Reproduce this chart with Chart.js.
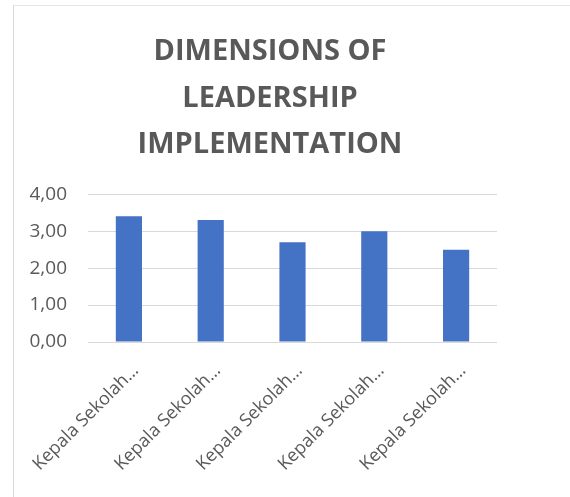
<!DOCTYPE html>
<html>
<head>
<meta charset="utf-8">
<script src="https://cdn.jsdelivr.net/npm/chart.js@4"></script>
<style>
    body { margin: 0; background: #fff; }
    #wrap { position: relative; width: 570px; height: 497px; }
    #frame { position: absolute; left: 13px; top: 5px; right: 0; bottom: 0;
             border-left: 1px solid #d9d9d9; border-top: 1px solid #e6e6e6; }
    canvas { position: absolute; left: 0; top: 0; }
</style>
</head>
<body>
<div id="wrap">
    <div id="frame"></div>
    <canvas id="chart" width="570" height="497"></canvas>
</div>
<script>
    // chart data
    const titleLines = ['DIMENSIONS OF', 'LEADERSHIP', 'IMPLEMENTATION'];
    const categories = ['Kepala Sekolah…', 'Kepala Sekolah…', 'Kepala Sekolah…', 'Kepala Sekolah…', 'Kepala Sekolah…'];
    const scores = [3.40, 3.30, 2.70, 3.00, 2.50];
    const yTicks = [0, 1, 2, 3, 4];

    const grey = '#595959';
    const font = "'Open Sans', sans-serif";

    const ctx = document.getElementById('chart').getContext('2d');
    new Chart(ctx, {
        type: 'bar',
        data: {
            labels: categories,
            datasets: [{
                data: scores,
                backgroundColor: '#4472C4',
                borderWidth: 0,
                categoryPercentage: 1,
                barPercentage: 0.32
            }]
        },
        options: {
            responsive: false,
            animation: false,
            layout: { padding: { top: 5, left: 13, right: 43, bottom: 4 } },
            plugins: {
                legend: { display: false },
                tooltip: { enabled: false },
                title: {
                    display: true,
                    text: titleLines,
                    color: grey,
                    font: { family: font, size: 29, weight: 'bold', lineHeight: 1.6 },
                    padding: { top: 24, bottom: 26 }
                }
            },
            scales: {
                x: {
                    grid: { display: false },
                    border: { display: false },
                    ticks: {
                        color: grey,
                        font: { family: font, size: 18 },
                        minRotation: 45,
                        maxRotation: 45,
                        autoSkip: false,
                        padding: 10,
                        labelOffset: 7
                    },
                    afterFit: scale => { scale.height = 151; }
                },
                y: {
                    min: 0,
                    max: 4,
                    afterBuildTicks: scale => { scale.ticks = yTicks.map(v => ({ value: v })); },
                    grid: { color: '#d9d9d9', lineWidth: 1, drawTicks: false },
                    border: { display: false },
                    ticks: {
                        color: grey,
                        font: { family: font, size: 19 },
                        padding: 21,
                        callback: v => v.toFixed(2).replace('.', ',')
                    },
                    afterFit: scale => { scale.width = 75; }
                },
                // empty right-side box so the title centres like the original
                pad: {
                    type: 'linear',
                    position: 'right',
                    grid: { display: false },
                    border: { display: false },
                    ticks: { display: false },
                    afterFit: scale => { scale.width = 30; }
                }
            }
        }
    });
</script>
</body>
</html>
